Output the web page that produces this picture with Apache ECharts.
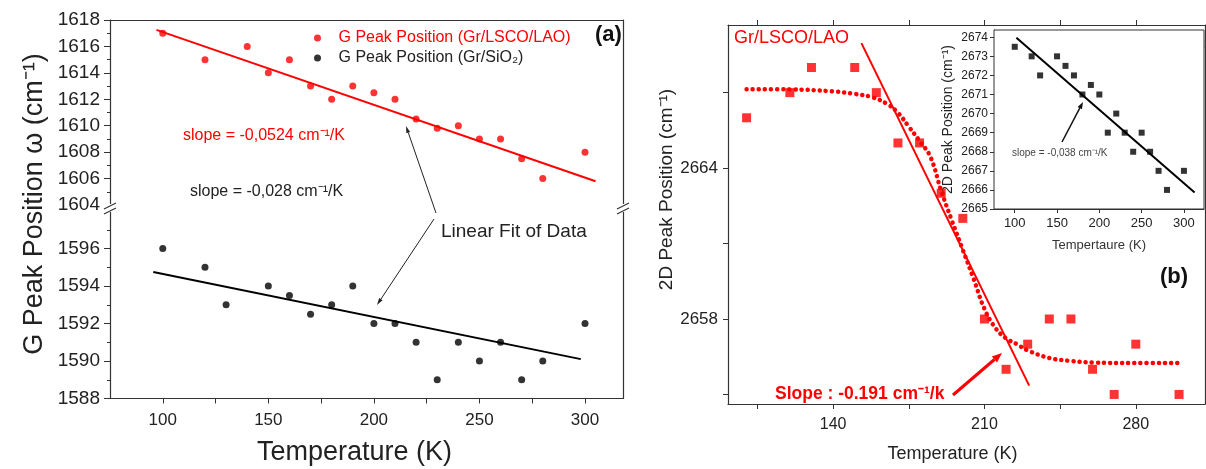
<!DOCTYPE html>
<html><head><meta charset="utf-8">
<script src="https://cdn.jsdelivr.net/npm/echarts@6/dist/echarts.min.js"></script>
<style>html,body{margin:0;padding:0;background:#fff}#c{width:1206px;height:469px}</style>
</head><body><div id="c"></div>
<script>
// ---------- Panel (a) data ----------
const tempA_LSCO = [100,120,140,150,160,170,180,190,200,210,220,230,240,250,260,270,280,300];
const gPeak_LSCO = [1617,1615,1616,1614,1615,1613,1612,1613,1612.5,1612,1610.5,1609.8,1610,1609,1609,1607.5,1606,1608];
const fitA_LSCO_T = [97, 305];
const fitA_LSCO_V = [1617.25, 1605.8];
const tempA_SiO2 = [100,120,130,150,160,170,180,190,200,210,220,230,240,250,260,270,280,300];
const gPeak_SiO2 = [1596,1595,1593,1594,1593.5,1592.5,1593,1594,1592,1592,1591,1589,1591,1590,1591,1589,1590,1592];
const fitA_SiO2_T = [95.5, 298];
const fitA_SiO2_V = [1594.75, 1590.1];
const ticksA_x = [100,150,200,250,300];
const minorA_x = [100,125,150,175,200,225,250,275,300];

// ---------- Panel (b) data ----------
const tempB = [100,120,130,150,160,170,180,190,200,210,220,230,240,250,260,270,280,300];
const peak2D_LSCO = [2666,2667,2668,2668,2667,2665,2665,2663,2662,2658,2656,2657,2658,2658,2656,2655,2657,2655];
const sigT = [100,120,140,150,158,165,170,175,180,185,190,195,200,205,210,215,220,225,230,240,250,260,280,300];
const sigV = [2667.14,2667.13,2667.05,2666.95,2666.82,2666.55,2666.2,2665.65,2665.08,2664.45,2663.1,2661.9,2660.75,2659.6,2658.4,2657.65,2657.23,2657.0,2656.75,2656.45,2656.33,2656.27,2656.25,2656.25];
const steepT = [153.1, 230.7];
const steepV = [2668.97, 2655.35];
const ticksB_x = [140,210,280];
const minorB_x = [105,140,175,210,245,280];
const ticksB_y = [2658,2664];
const minorB_y = [2655,2658,2661,2664,2667];

// ---------- Inset data ----------
const tempInset = [100,120,130,150,160,170,180,190,200,210,220,230,240,250,260,270,280,300];
const peak2D_SiO2 = [2673.5,2673,2672,2673,2672.5,2672,2671,2671.5,2671,2669,2670,2669,2668,2669,2668,2667,2666,2667];
const fitInsetT = [102, 312.6];
const fitInsetV = [2673.98, 2665.86];
const ticksInset_x = [100,150,200,250,300];

const zip = (a,b) => a.map((v,i)=>[v,b[i]]);
const FF = 'Liberation Sans, Arial, sans-serif';
const NF = 'Liberation Sans Narrow, Arial Narrow, Liberation Sans, sans-serif';
const AX = '#333';
const RED = '#ff0000';
const plain = v => String(v);

function arrow(x1,y1,x2,y2,color,w,hl,hw){
  const ang = Math.atan2(y2-y1,x2-x1);
  const bx = x2 - hl*Math.cos(ang), by = y2 - hl*Math.sin(ang);
  const px = -Math.sin(ang)*hw/2, py = Math.cos(ang)*hw/2;
  return [
    {type:'line', shape:{x1:x1,y1:y1,x2:bx,y2:by}, style:{stroke:color,lineWidth:w}, z:100},
    {type:'polygon', shape:{points:[[x2,y2],[bx+px,by+py],[bx-px,by-py]]}, style:{fill:color}, z:100}
  ];
}
function txt(x,y,text,size,color,opts){
  return Object.assign({type:'text', x:x, y:y, z:100,
    style:Object.assign({text:text, fontSize:size, fill:color, fontFamily:FF, verticalAlign:'middle', align:'left'}, (opts||{}).style||{})},
    (opts||{}).el||{});
}
function brk(x,y){
  return [
    {type:'rect', shape:{x:x-7,y:y-4,width:14,height:8}, style:{fill:'#fff'}, z:99},
    {type:'line', shape:{x1:x-6,y1:y+1,x2:x+6,y2:y-5}, style:{stroke:AX,lineWidth:1.2}, z:100},
    {type:'line', shape:{x1:x-6,y1:y+6,x2:x+6,y2:y}, style:{stroke:AX,lineWidth:1.2}, z:100}
  ];
}

const chart = echarts.init(document.getElementById('c'), null, {renderer:'canvas'});

const lineOnly = {axisLine:{show:true,lineStyle:{color:AX,width:1.2}}, axisTick:{show:false}, axisLabel:{show:false}, splitLine:{show:false}};

const option = {
  animation:false,
  backgroundColor:'#fff',
  textStyle:{fontFamily:FF},
  grid:[
    {left:110, top:20, width:513, height:185},
    {left:110, top:211, width:513, height:187.5},
    {left:728, top:25, width:477, height:379},
    {left:994, top:30, width:210, height:179, show:true, backgroundColor:'#fff', borderColor:AX, borderWidth:1, z:5}
  ],
  xAxis:[
    Object.assign({type:'value', gridIndex:0, position:'top', min:75, max:318}, lineOnly),
    {type:'value', gridIndex:1, position:'bottom', min:75, max:318,
      axisLine:{lineStyle:{color:AX,width:1.2}},
      axisTick:{customValues:minorA_x, length:5, lineStyle:{color:AX}},
      axisLabel:{customValues:ticksA_x, fontSize:17, color:'#222', margin:13, formatter:plain},
      splitLine:{show:false},
      name:'Temperature (K)', nameLocation:'middle', nameGap:41,
      nameTextStyle:{fontSize:27, color:'#222', padding:[0,24,0,0]}},
    {type:'value', gridIndex:2, position:'bottom', min:91.4, max:312,
      axisLine:{lineStyle:{color:AX,width:1.2}},
      axisTick:{customValues:minorB_x, length:5, lineStyle:{color:AX}},
      axisLabel:{customValues:ticksB_x, fontSize:16, color:'#222', margin:13, formatter:plain},
      splitLine:{show:false},
      name:'Temperature (K)', nameLocation:'middle', nameGap:41,
      nameTextStyle:{fontSize:18, color:'#222', padding:[0,28,0,0]}},
    {type:'value', gridIndex:2, position:'top', min:91.4, max:312,
      axisLine:{lineStyle:{color:AX,width:1.2}},
      axisTick:{customValues:minorB_x, length:5, lineStyle:{color:AX}},
      axisLabel:{show:false}, splitLine:{show:false}},
    {type:'value', gridIndex:3, position:'bottom', min:75.5, max:323.7,
      axisLine:{lineStyle:{color:AX,width:1}},
      axisTick:{customValues:ticksInset_x, length:4, lineStyle:{color:AX}},
      axisLabel:{customValues:ticksInset_x, fontSize:13, color:'#222', fontFamily:NF, margin:8, formatter:plain},
      splitLine:{show:false},
      name:'Tempertaure (K)', nameLocation:'middle', nameGap:30,
      nameTextStyle:{fontSize:13, color:'#333', fontFamily:NF}}
  ],
  yAxis:[
    {type:'value', gridIndex:0, position:'left', min:1604, max:1618, interval:2,
      axisLine:{show:true,lineStyle:{color:AX,width:1.2}},
      axisTick:{show:true, length:6, lineStyle:{color:AX}},
      minorTick:{show:true, splitNumber:2, length:3, lineStyle:{color:AX}},
      axisLabel:{fontSize:19, color:'#222', margin:10, formatter:plain},
      splitLine:{show:false}},
    Object.assign({type:'value', gridIndex:0, position:'right', min:1604, max:1618}, lineOnly),
    {type:'value', gridIndex:1, position:'left', min:1588, max:1598, interval:2,
      axisLine:{show:true,lineStyle:{color:AX,width:1.2}},
      axisTick:{show:true, length:6, lineStyle:{color:AX}},
      minorTick:{show:true, splitNumber:2, length:3, lineStyle:{color:AX}},
      axisLabel:{fontSize:19, color:'#222', margin:10, showMaxLabel:false, formatter:plain},
      splitLine:{show:false}},
    Object.assign({type:'value', gridIndex:1, position:'right', min:1588, max:1598}, lineOnly),
    {type:'value', gridIndex:2, position:'left', min:2654.62, max:2669.69,
      axisLine:{show:true,lineStyle:{color:AX,width:1.2}},
      axisTick:{show:true, customValues:minorB_y, length:5, lineStyle:{color:AX}},
      axisLabel:{customValues:ticksB_y, fontSize:17, color:'#222', margin:10, formatter:plain},
      splitLine:{show:false},
      name:'2D Peak Position (cm⁻¹)', nameLocation:'middle', nameGap:50,
      nameTextStyle:{fontSize:19, color:'#222', padding:[0,0,0,50]}},
    Object.assign({type:'value', gridIndex:2, position:'right', min:2654.62, max:2669.69}, lineOnly),
    {type:'value', gridIndex:3, position:'left', min:2665, max:2674.38, interval:1,
      axisLine:{show:true,lineStyle:{color:AX,width:1}},
      axisTick:{show:true, length:4, lineStyle:{color:AX}},
      axisLabel:{fontSize:12, color:'#222', fontFamily:NF, margin:6, formatter:plain},
      splitLine:{show:false},
      name:'2D Peak Position (cm⁻¹)', nameLocation:'middle', nameGap:39,
      nameTextStyle:{fontSize:14, color:'#222'}}
  ],
  legend:[
    {orient:'vertical', left:309, top:25, itemWidth:32, itemHeight:7, itemGap:4,
      data:[{name:'G Peak Position (Gr/LSCO/LAO)', textStyle:{color:RED}},
            {name:'G Peak Position (Gr/SiO₂)', textStyle:{color:'#222'}}],
      textStyle:{fontSize:16, fontFamily:FF}},
    {orient:'vertical', left:1030, top:34, itemWidth:16, itemHeight:6,
      data:[{name:'2D Peak Position (cm⁻¹) (Gr/SiO₂)'}],
      textStyle:{fontSize:11, color:'#444', fontFamily:NF}}
  ],
  series:[
    {name:'G Peak Position (Gr/LSCO/LAO)', type:'scatter', xAxisIndex:0, yAxisIndex:0,
      symbol:'circle', symbolSize:7, itemStyle:{color:RED}, data:zip(tempA_LSCO,gPeak_LSCO)},
    {name:'fitA_LSCO', type:'line', xAxisIndex:0, yAxisIndex:0, symbol:'none',
      lineStyle:{color:RED,width:2}, data:zip(fitA_LSCO_T,fitA_LSCO_V)},
    {name:'G Peak Position (Gr/SiO₂)', type:'scatter', xAxisIndex:1, yAxisIndex:2,
      symbol:'circle', symbolSize:7, itemStyle:{color:'#000'}, data:zip(tempA_SiO2,gPeak_SiO2)},
    {name:'fitA_SiO2', type:'line', xAxisIndex:1, yAxisIndex:2, symbol:'none',
      lineStyle:{color:'#000',width:2}, data:zip(fitA_SiO2_T,fitA_SiO2_V)},
    {name:'Gr/LSCO/LAO 2D', type:'scatter', xAxisIndex:2, yAxisIndex:4,
      symbol:'rect', symbolSize:9, itemStyle:{color:RED}, data:zip(tempB,peak2D_LSCO)},
    {name:'sigmoid fit', type:'line', xAxisIndex:2, yAxisIndex:4, symbol:'none', smooth:0.4,
      lineStyle:{color:RED,width:4.5,type:[0.1,6],cap:'round'}, data:zip(sigT,sigV)},
    {name:'steep fit', type:'line', xAxisIndex:2, yAxisIndex:4, symbol:'none',
      lineStyle:{color:RED,width:2}, data:zip(steepT,steepV)},
    {name:'2D Peak Position (cm⁻¹) (Gr/SiO₂)', type:'scatter', xAxisIndex:4, yAxisIndex:6, z:10,
      symbol:'rect', symbolSize:6, itemStyle:{color:'#000'}, data:zip(tempInset,peak2D_SiO2)},
    {name:'fitInset', type:'line', xAxisIndex:4, yAxisIndex:6, symbol:'none', z:10,
      lineStyle:{color:'#000',width:2}, data:zip(fitInsetT,fitInsetV)}
  ],
  graphic:[].concat(
    brk(110,208), brk(623,208),
    [
      txt(35,204,'G Peak Position ω (cm⁻¹)',27,'#222',{style:{align:'center'},el:{rotation:Math.PI/2}}),
      txt(183,136,'slope = -0,0524 cm⁻¹/K',16,RED),
      txt(190,192,'slope = -0,028 cm⁻¹/K',16,'#222'),
      txt(441,232,'Linear Fit of Data',19,'#222'),
      txt(595,35,'(a)',22,'#111',{style:{fontWeight:'bold'}}),
      txt(734,38,'Gr/LSCO/LAO',18,RED),
      txt(775,394,'Slope : -0.191 cm⁻¹/k',17.5,RED,{style:{fontWeight:'bold'}}),
      txt(1160,277,'(b)',22,'#111',{style:{fontWeight:'bold'}}),
      txt(1012,153,'slope = -0,038 cm⁻¹/K',10,'#444',{style:{fontFamily:NF}})
    ],
    arrow(436,213,406,126,'#222',1,7,4),
    arrow(434,219,377,305,'#222',1,7,4),
    arrow(953,395,1002,353,RED,3,10,8),
    arrow(1062,142,1083,102,'#111',1.5,7,5)
  )
};
chart.setOption(option);
</script>
</body></html>
